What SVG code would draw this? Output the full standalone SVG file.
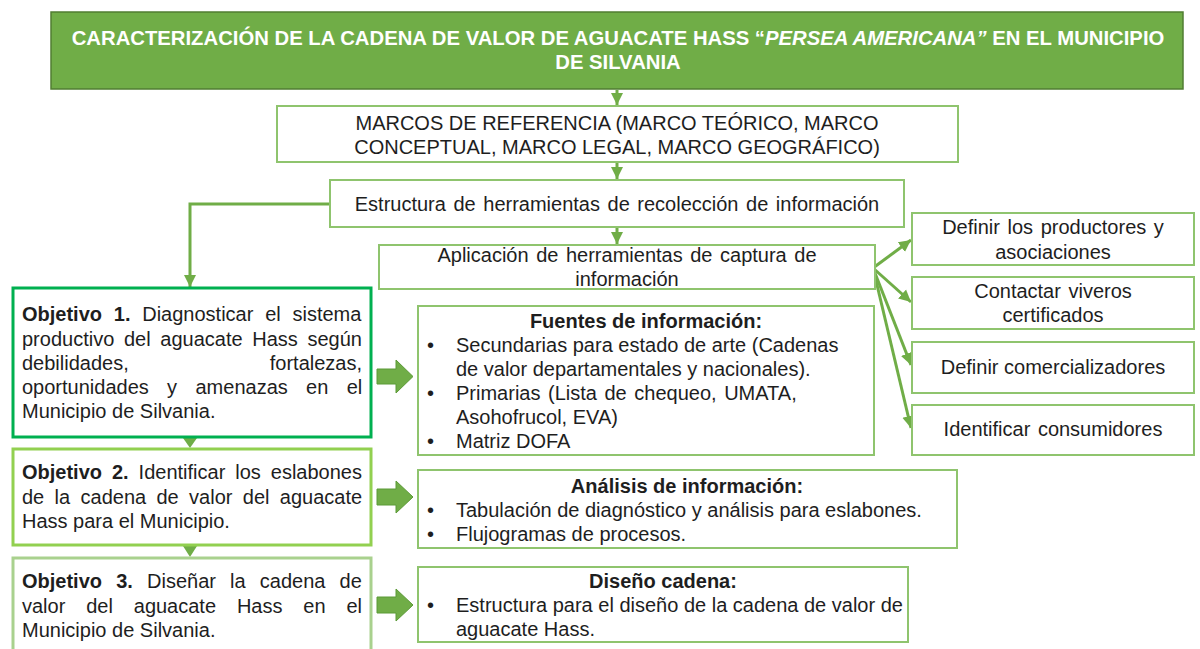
<svg xmlns="http://www.w3.org/2000/svg" width="1200" height="649" viewBox="0 0 1200 649">
<defs>
<style>
text{font-family:"Liberation Sans",Arial,sans-serif;font-size:20px;fill:#1e1e1e}
.t{fill:#fff;font-weight:bold;font-size:20.3px}
.b{font-weight:bold}
.c{text-anchor:middle}
.e{text-anchor:end}
.box{fill:#fff;stroke:#8fc46e;stroke-width:2}
.conn{fill:none;stroke:#70ad47;stroke-width:3}
.blk{fill:#70ad47;stroke:#5b9a36;stroke-width:1}
</style>
<marker id="ah" markerUnits="userSpaceOnUse" markerWidth="14" markerHeight="14" viewBox="0 0 14 14" refX="12" refY="7" orient="auto">
<path d="M0,1 L12,7 L0,13 Z" fill="#70ad47"/>
</marker>
</defs>

<g id="connectors">
<path class="conn" d="M617,90 V105" marker-end="url(#ah)"/>
<path class="conn" d="M617,163 V179" marker-end="url(#ah)"/>
<path class="conn" d="M617,228 V244" marker-end="url(#ah)"/>
<path class="conn" d="M330,204 H190 V287" marker-end="url(#ah)"/>
<path class="conn" d="M873,268 L911,240" marker-end="url(#ah)"/>
<path class="conn" d="M873,268 L911,302" marker-end="url(#ah)"/>
<path class="conn" d="M873,268 L911,365" marker-end="url(#ah)"/>
<path class="conn" d="M873,268 L911,428" marker-end="url(#ah)"/>
<path d="M183,438 L197,438 L190,448 Z" fill="#70ad47"/>
<path d="M183,546 L197,546 L190,557 Z" fill="#70ad47"/>
<polygon class="blk" points="377,369 396,369 396,360 413,376.5 396,393 396,384 377,384"/>
<polygon class="blk" points="377,489 396,489 396,481 413,497 396,513 396,505 377,505"/>
<polygon class="blk" points="377,597 396,597 396,589 413,605 396,621 396,613 377,613"/>
</g>

<g id="title">
<rect x="51" y="12" width="1132" height="77" fill="#70ad47" stroke="#507e32" stroke-width="1.5"/>
<text class="t c" x="618" y="45">CARACTERIZACIÓN DE LA CADENA DE VALOR DE AGUACATE HASS “<tspan font-style="italic">PERSEA AMERICANA”</tspan> EN EL MUNICIPIO</text>
<text class="t c" x="618" y="69">DE SILVANIA</text>
</g>

<g id="marcos">
<rect class="box" x="277" y="106" width="681" height="56"/>
<text class="c" x="617" y="130">MARCOS DE REFERENCIA (MARCO TEÓRICO, MARCO</text>
<text class="c" x="617" y="154">CONCEPTUAL, MARCO LEGAL, MARCO GEOGRÁFICO)</text>
</g>

<g id="estructura">
<rect class="box" x="330" y="180" width="574" height="47"/>
<text class="c" x="617" y="211" word-spacing="2">Estructura de herramientas de recolección de información</text>
</g>

<g id="aplicacion">
<rect class="box" x="379" y="245" width="496" height="44"/>
<text class="c" x="627" y="262" word-spacing="2">Aplicación de herramientas de captura de</text>
<text class="c" x="627" y="286">información</text>
</g>

<g id="definir-productores">
<rect class="box" x="912" y="213" width="282" height="52"/>
<text class="c" x="1053" y="234" word-spacing="2">Definir los productores y</text>
<text class="c" x="1053" y="259">asociaciones</text>
</g>

<g id="contactar-viveros">
<rect class="box" x="912" y="277" width="282" height="52"/>
<text class="c" x="1053" y="298" word-spacing="2">Contactar viveros</text>
<text class="c" x="1053" y="322">certificados</text>
</g>

<g id="definir-comercializadores">
<rect class="box" x="912" y="342" width="282" height="51"/>
<text class="c" x="1053" y="374">Definir comercializadores</text>
</g>

<g id="identificar-consumidores">
<rect class="box" x="912" y="405" width="282" height="50"/>
<text class="c" x="1053" y="436" word-spacing="2">Identificar consumidores</text>
</g>

<g id="objetivo1">
<rect x="13" y="288" width="358" height="149" fill="#fff" stroke="#00b050" stroke-width="3"/>
<text x="22" y="321" word-spacing="6.2"><tspan class="b">Objetivo 1.</tspan> Diagnosticar el sistema</text>
<text x="22" y="346" word-spacing="4.1">productivo del aguacate Hass según</text>
<text x="22" y="370">debilidades,</text>
<text class="e" x="362" y="370">fortalezas,</text>
<text x="22" y="394" word-spacing="12.8">oportunidades y amenazas en el</text>
<text x="22" y="418">Municipio de Silvania.</text>
</g>

<g id="objetivo2">
<rect x="13" y="449" width="358" height="96" fill="#fff" stroke="#92d050" stroke-width="3"/>
<text x="22" y="479" word-spacing="4.4"><tspan class="b">Objetivo 2.</tspan> Identificar los eslabones</text>
<text x="22" y="504" word-spacing="4.8">de la cadena de valor del aguacate</text>
<text x="22" y="528">Hass para el Municipio.</text>
</g>

<g id="objetivo3">
<rect x="13" y="558" width="358" height="100" fill="#fff" stroke="#a9d18e" stroke-width="3"/>
<text x="22" y="588" word-spacing="8.6"><tspan class="b">Objetivo 3.</tspan> Diseñar la cadena de</text>
<text x="22" y="613" word-spacing="15.3">valor del aguacate Hass en el</text>
<text x="22" y="637">Municipio de Silvania.</text>
</g>

<g id="fuentes">
<rect class="box" x="418" y="306" width="456" height="149"/>
<text class="b c" x="646" y="328">Fuentes de información:</text>
<text x="427" y="352">•</text>
<text x="456" y="352">Secundarias para estado de arte (Cadenas</text>
<text x="456" y="376">de valor departamentales y nacionales).</text>
<text x="427" y="400">•</text>
<text x="456" y="400" word-spacing="2">Primarias (Lista de chequeo, UMATA,</text>
<text x="456" y="424">Asohofrucol, EVA)</text>
<text x="427" y="448">•</text>
<text x="456" y="448">Matriz DOFA</text>
</g>

<g id="analisis">
<rect class="box" x="418" y="470" width="539" height="78"/>
<text class="b c" x="687" y="493">Análisis de información:</text>
<text x="427" y="517">•</text>
<text x="456" y="517">Tabulación de diagnóstico  y análisis para eslabones.</text>
<text x="427" y="541">•</text>
<text x="456" y="541">Flujogramas de procesos.</text>
</g>

<g id="diseno">
<rect class="box" x="418" y="567" width="490" height="75"/>
<text class="b c" x="663" y="588">Diseño cadena:</text>
<text x="427" y="612">•</text>
<text x="456" y="612">Estructura para el diseño de la cadena de valor de</text>
<text x="456" y="636">aguacate Hass.</text>
</g>
</svg>
